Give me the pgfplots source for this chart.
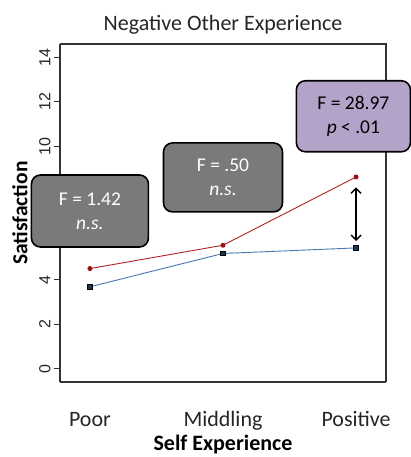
\documentclass[border=0pt]{standalone}
\usepackage{pgfplots}
\pgfplotsset{compat=1.18}
\usepackage{fontspec}
\setmainfont{Carlito}
\newfontfamily\arialf{Liberation Sans}
\usetikzlibrary{arrows.meta}
\definecolor{redl}{HTML}{B22222}
\definecolor{redm}{HTML}{9B1010}
\definecolor{bluel}{HTML}{4A78B0}
\definecolor{bluem}{HTML}{1F3550}
\definecolor{boxgray}{HTML}{7A7A7A}
\definecolor{boxpurple}{HTML}{B3A3C9}
\definecolor{axgray}{HTML}{333333}
\begin{document}
\begin{tikzpicture}
\path[use as bounding box] (-60pt,-75pt) rectangle (350pt,382pt);
\begin{axis}[
  at={(0pt,0pt)}, anchor=south west,
  scale only axis, width=326pt, height=338pt,
  xmin=0.775, xmax=3.225, ymin=-0.6, ymax=14.6,
  axis line style={axgray, line width=1.2pt},
  xtick={1,2,3}, xticklabels={Poor,Middling,Positive},
  x tick style={draw=none},
  xticklabel style={font=\fontsize{22}{26}\selectfont, color=black!85, anchor=base, yshift=-38pt},
  ytick={0,2,...,14},
  y tick style={axgray, line width=0.8pt},
  tick align=outside, major tick length=6pt,
  yticklabel style={rotate=90, anchor=south, font=\arialf\fontsize{16}{18}\selectfont, color=black!85},
  /pgf/number format/assume math mode=true,
  xticklabel pos=lower, yticklabel pos=left,
  axis y line*=left, axis x line*=bottom,
  clip=false,
]
\draw[axgray, line width=1.2pt] (rel axis cs:0,1) -- (rel axis cs:1,1) -- (rel axis cs:1,0);
\node[anchor=base, font=\fontsize{22}{26}\selectfont, color=black!85] at ([yshift=13pt]rel axis cs:0.5,1) {Negative Other Experience};
\node[anchor=base, font=\fontsize{22}{26}\selectfont\bfseries] at ([yshift=-68.5pt]rel axis cs:0.5,0) {Self Experience};
\node[rotate=90, anchor=center, font=\fontsize{21.5}{26}\selectfont\bfseries] at ([xshift=-40pt]rel axis cs:0,0.5) {Satisfaction};
\addplot[redl, line width=0.9pt, mark=*, mark size=2pt, mark options={fill=redm, draw=redm}] coordinates {(1,4.5) (2,5.55) (3,8.62)};
\addplot[bluel, line width=0.9pt, mark=square*, mark size=2.2pt, mark options={fill=bluem, draw=black}] coordinates {(1,3.68) (2,5.18) (3,5.43)};
\draw[black, line width=1.4pt, {Straight Barb[length=5pt,width=10pt]}-{Straight Barb[length=5pt,width=10pt]}] (axis cs:3,8.15) -- (axis cs:3,5.74);
\node[draw=black, line width=1.6pt, fill=boxgray, rounded corners=9pt, minimum width=117pt, minimum height=72pt, align=center, text=white, font=\fontsize{19.5}{24}\selectfont] at (axis cs:1.0,7.09) {F = 1.42\\\textit{n.s.}};
\node[draw=black, line width=1.6pt, fill=boxgray, rounded corners=9pt, minimum width=119pt, minimum height=69pt, align=center, text=white, font=\fontsize{19.5}{24}\selectfont] at (axis cs:2.0,8.6) {F = .50\\\textit{n.s.}};
\node[draw=black, line width=1.6pt, fill=boxpurple, rounded corners=9pt, minimum width=114pt, minimum height=71pt, align=center, text=black, font=\fontsize{19.5}{24}\selectfont] at (axis cs:2.98,11.35) {F = 28.97\\\textit{p} < .01};
\end{axis}
\end{tikzpicture}
\end{document}
